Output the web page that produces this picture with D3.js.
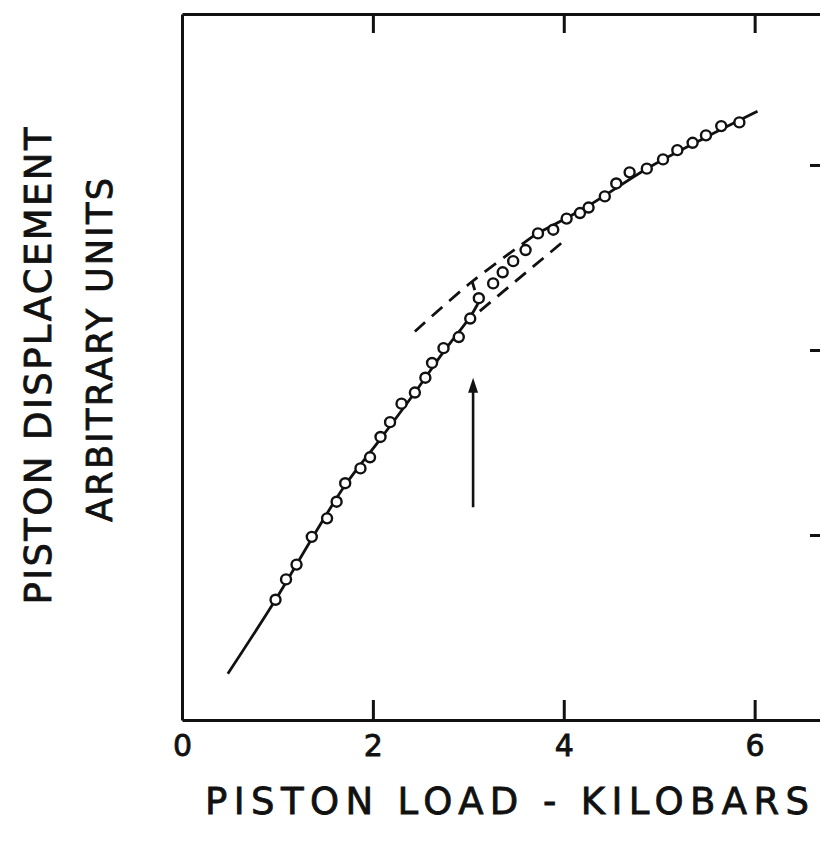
<!DOCTYPE html>
<html><head><meta charset="utf-8">
<script src="https://cdn.jsdelivr.net/npm/d3@7"></script>
<style>body{margin:0;background:#fff} svg{display:block}</style>
</head><body>
<svg id="chart" width="820" height="844"></svg>
<script>
// ---- data (piston load in kilobars, displacement in arbitrary units) ----
const xTickValues = [0, 2, 4, 6];
const xTickLabels = ["0", "2", "4", "6"];
const yTickValues = [1, 2, 3];

const pointLoad = [0.98,1.09,1.20,1.36,1.52,1.62,1.71,1.87,1.97,2.08,2.18,2.30,2.44,2.55,2.62,2.74,2.90,3.02,3.11,3.26,3.36,3.47,3.60,3.73,3.89,4.03,4.17,4.26,4.43,4.55,4.69,4.87,5.04,5.19,5.35,5.49,5.65,5.84];
const pointDisp = [0.65,0.76,0.84,0.99,1.09,1.18,1.28,1.36,1.42,1.53,1.61,1.71,1.77,1.85,1.93,2.01,2.07,2.17,2.28,2.36,2.42,2.48,2.54,2.63,2.65,2.71,2.74,2.77,2.83,2.90,2.96,2.98,3.03,3.08,3.12,3.16,3.21,3.23];

const lowerSolidLoad = [0.48,0.98,1.36,1.71,2.08,2.44,2.74,3.02,3.10];
const lowerSolidDisp = [0.25,0.65,0.98,1.27,1.52,1.77,1.99,2.18,2.25];

const lowerDashLoad = [3.12,3.98];
const lowerDashDisp = [2.21,2.58];

const upperDashLoad = [2.44,3.04,3.72];
const upperDashDisp = [2.10,2.37,2.63];

const connectorLoad = [3.04,3.10];
const connectorDisp = [2.37,2.27];

const upperSolidLoad = [3.72,4.26,4.87,5.49,6.03];
const upperSolidDisp = [2.63,2.78,2.98,3.15,3.29];

const arrowLoad = [3.05, 3.05];
const arrowDisp = [1.15, 1.85];

// ---- layout ----
const svg = d3.select("#chart");
const x = d3.scaleLinear().domain([0, 6.8]).range([182, 831]);
const y = d3.scaleLinear().domain([0, 3.816]).range([720, 14]);
const ink = "#111";
const font = "'DejaVu Sans', 'Liberation Sans', sans-serif";

// frame
const gB = svg.append("g").attr("transform", `translate(0,${y(0)})`)
  .call(d3.axisBottom(x).tickValues(xTickValues).tickFormat((d,i)=>xTickLabels[i])
        .tickSizeInner(-20).tickSizeOuter(0).tickPadding(15));
const gT = svg.append("g").attr("transform", `translate(0,${y(3.816)})`)
  .call(d3.axisTop(x).tickValues(xTickValues.slice(1)).tickFormat("").tickSizeInner(-19).tickSizeOuter(0));
const gR = svg.append("g").attr("transform", `translate(${x(6.8)},0)`)
  .call(d3.axisRight(y).tickValues(yTickValues).tickFormat("").tickSizeInner(-21).tickSizeOuter(0));
const gL = svg.append("g").attr("transform", `translate(${x(0)},0)`)
  .call(d3.axisLeft(y).tickValues([]).tickSizeOuter(0));
svg.selectAll(".domain").attr("stroke", ink).attr("stroke-width", 3);
svg.selectAll(".tick line").attr("stroke", ink).attr("stroke-width", 3);
gB.selectAll(".tick line").filter(d => d === 0).remove();
gB.selectAll(".tick text").attr("font-family", font).attr("font-size", 30).attr("fill", ink)
  .attr("stroke", ink).attr("stroke-width", 0.8);

// curves
const line = d3.line().x(d => x(d[0])).y(d => y(d[1])).curve(d3.curveCatmullRom.alpha(0.5));
const zip = (a, b) => a.map((v, i) => [v, b[i]]);
function drawCurve(lx, ly, dash) {
  svg.append("path").datum(zip(lx, ly)).attr("d", line)
    .attr("fill", "none").attr("stroke", ink).attr("stroke-width", 2.8)
    .attr("stroke-dasharray", dash || null);
}
drawCurve(lowerSolidLoad, lowerSolidDisp);
drawCurve(upperSolidLoad, upperSolidDisp);
drawCurve(lowerDashLoad, lowerDashDisp, "14,9");
drawCurve(upperDashLoad, upperDashDisp, "14,9");
drawCurve(connectorLoad, connectorDisp, "9,4");

// points
svg.append("g").selectAll("circle").data(zip(pointLoad, pointDisp)).join("circle")
  .attr("cx", d => x(d[0])).attr("cy", d => y(d[1])).attr("r", 5)
  .attr("fill", "#fff").attr("stroke", ink).attr("stroke-width", 2.4);

// arrow
const ax = x(arrowLoad[0]), ay0 = y(arrowDisp[0]), ay1 = y(arrowDisp[1]);
svg.append("line").attr("x1", ax).attr("x2", ax).attr("y1", ay0).attr("y2", ay1 + 12)
  .attr("stroke", ink).attr("stroke-width", 2.6);
svg.append("path").attr("d", `M${ax},${ay1} L${ax-5},${ay1+15} L${ax+5},${ay1+15} Z`).attr("fill", ink);

// titles
function title(t, tr, size, len) {
  svg.append("text").attr("transform", tr).attr("text-anchor", "middle")
    .attr("font-family", font).attr("font-size", size).attr("fill", ink)
    .attr("stroke", ink).attr("stroke-width", 0.8)
    .attr("textLength", len).attr("lengthAdjust", "spacing").text(t);
}
title("PISTON  LOAD  -  KILOBARS", "translate(507,814)", 37, 604);
title("PISTON  DISPLACEMENT", "translate(51,366) rotate(-90)", 37, 477);
title("ARBITRARY  UNITS", "translate(112,350) rotate(-90)", 35, 344);
</script>
</body></html>
